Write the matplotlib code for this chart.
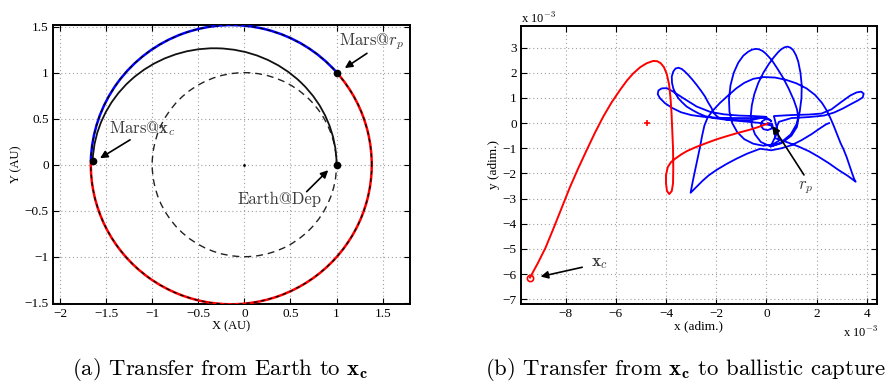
import matplotlib.pyplot as plt
from matplotlib.patches import Arc, Circle

plt.rcParams['font.family'] = ['Liberation Serif', 'DejaVu Serif']
plt.rcParams['mathtext.fontset'] = 'cm'

# ---- (a) heliocentric transfer, AU ----
mars_center = (-0.142, 0.0)
mars_w, mars_h = 3.048, 3.034
earth_r = 1.0
transfer_center = (-0.323, 0.0)
transfer_w, transfer_h = 2.646, 2.53
ang_rp = 41.2      # Mars@rp seen from Mars orbit centre (deg)
ang_xc = 178.5     # Mars@xc
ang_transfer_end = 178.3

pts_x = [1.0, -1.646, 1.0]
pts_y = [1.0, 0.04, 0.0]

# ---- (b) ballistic capture, adim. (x 1e-3) ----
red_x = [-9.42, -9.1, -8.8, -8.49, -8.15, -7.83, -7.5, -7.16, -6.83, -6.5, -6.17,
         -5.83, -5.55, -5.30, -5.03, -4.77, -4.51, -4.35, -4.21, -4.08, -3.97, -3.88,
         -3.82, -3.78, -3.75, -3.72, -3.71, -3.72, -3.77, -3.87, -3.96, -4.0, -4.0,
         -3.93, -3.8, -3.64, -3.4, -3.18, -2.8, -2.38, -2.0, -1.58, -1.1, -0.65,
         -0.3, 0.05]
red_y = [-6.14, -5.55, -4.95, -4.2, -3.35, -2.55, -1.8, -1.07, -0.38, 0.26, 0.82,
         1.32, 1.70, 1.98, 2.22, 2.38, 2.47, 2.46, 2.38, 2.22, 1.95, 1.55,
         1.0, 0.4, -0.3, -1.0, -1.8, -2.4, -2.7, -2.82, -2.7, -2.4, -2.07,
         -1.75, -1.55, -1.42, -1.25, -1.12, -0.95, -0.79, -0.65, -0.52, -0.38, -0.26,
         -0.15, -0.02]

blue_x = [0.05, 0.22, 0.25, 0.2, 0.05, -0.12, -0.22, -0.18, -0.05, 0.1, 0.2,
          # lobe to the far left
          0.0, -0.6, -1.2, -1.9, -2.5, -3.0, -3.4, -3.75, -4.04, -4.24, -4.33, -4.3,
          -4.17, -3.97, -3.71, -3.31, -2.78, -2.25, -1.7, -1.1, -0.5, 0.0,
          # upper-left lobe
          -0.6, -1.2, -1.6, -1.91, -2.1, -2.18, -2.32, -2.44, -2.6, -2.78, -2.95, -3.11,
          -3.25, -3.37, -3.5, -3.62, -3.71, -3.77, -3.76, -3.71, -3.62, -3.51, -3.35,
          -3.18, -2.95, -2.71, -2.45, -2.1, -1.5, -0.8, -0.2, 0.2, 0.4,
          # right tall loop
          0.17, 0.57, 0.97, 1.20, 1.33, 1.40, 1.41, 1.36, 1.27, 1.18, 1.07, 0.96, 0.84,
          0.72, 0.6, 0.48, 0.30, 0.10, -0.12, -0.32, -0.48, -0.58, -0.62, -0.58, -0.45,
          -0.22, 0.17, 0.6, 1.0, 1.22, 1.28,
          # left tall loop
          1.22, 1.1, 0.9, 0.68, 0.45, 0.22, -0.02, -0.14, -0.28, -0.42, -0.57, -0.72,
          -0.92, -1.12, -1.3, -1.43, -1.49, -1.47, -1.36, -1.16, -0.88, -0.52, -0.12,
          0.25, 0.5, 0.45, 0.3,
          # right lobe
          1.0, 1.7, 2.2, 2.6, 3.0, 3.35, 3.6, 3.78, 3.88, 3.84, 3.65, 3.4, 3.05, 2.7,
          2.3, 1.7, 1.0, 0.5, 0.35, 0.35,
          # lower right branch to cusp
          0.8, 1.28, 1.7, 2.07, 2.5, 2.87, 3.25, 3.56,
          # big arc
          3.50, 3.42, 3.32, 3.2, 3.08, 2.96, 2.82, 2.69, 2.57, 2.42, 2.22, 1.94, 1.6,
          1.2, 0.78, 0.35, -0.1, -0.52, -0.88, -1.2, -1.52, -1.85, -2.15, -2.35, -2.47,
          -2.56, -2.64, -2.74, -2.84, -2.93, -3.02,
          # lower left branch
          -2.8, -2.55, -2.3, -2.0, -1.58, -1.2, -0.78, -0.25, 0.2, 0.6, 1.0, 1.4, 1.8,
          2.15, 2.38, 2.5]
blue_y = [0.0, -0.02, -0.1, -0.22, -0.28, -0.24, -0.1, 0.06, 0.15, 0.15, 0.08,
          0.22, 0.2, 0.2, 0.21, 0.25, 0.32, 0.43, 0.6, 0.79, 0.99, 1.15, 1.3,
          1.38, 1.39, 1.25, 0.99, 0.66, 0.45, 0.35, 0.3, 0.28, 0.25,
          0.12, 0.12, 0.15, 0.22, 0.40, 0.59, 0.82, 1.05, 1.28, 1.52, 1.73, 1.91,
          2.05, 2.15, 2.2, 2.17, 2.05, 1.85, 1.6, 1.38, 1.18, 0.99, 0.82,
          0.66, 0.52, 0.39, 0.28, 0.2, 0.12, 0.06, 0.0, -0.1, -0.45,
          -0.93, -0.78, -0.45, -0.05, 0.45, 1.0, 1.5, 2.0, 2.45, 2.7, 2.9, 3.0, 3.04,
          3.01, 2.94, 2.83, 2.62, 2.35, 2.0, 1.6, 1.15, 0.7, 0.3, -0.1, -0.45,
          -0.75, -0.93, -0.8, -0.5, -0.15, 0.2,
          0.55, 0.9, 1.35, 1.78, 2.15, 2.5, 2.76, 2.86, 2.93, 2.95, 2.92, 2.84,
          2.68, 2.4, 2.0, 1.5, 0.95, 0.45, 0.0, -0.36, -0.64, -0.82, -0.9,
          -0.85, -0.7, -0.3, 0.28,
          0.32, 0.34, 0.38, 0.55, 0.85, 1.1, 1.22, 1.25, 1.17, 1.02, 0.9, 0.77, 0.58, 0.42,
          0.30, 0.24, 0.2, 0.05, -0.3, -0.6,
          -0.75, -0.93, -1.12, -1.33, -1.6, -1.86, -2.1, -2.33,
          -2.22, -2.0, -1.7, -1.35, -1.05, -0.80, -0.45, -0.12, 0.16, 0.48, 0.8, 1.12, 1.38,
          1.58, 1.72, 1.81, 1.83, 1.76, 1.6, 1.38, 1.1, 0.8, 0.48, 0.2, -0.1,
          -0.5, -0.93, -1.4, -1.86, -2.3, -2.77,
          -2.55, -2.3, -2.08, -1.87, -1.62, -1.42, -1.22, -1.02, -1.08, -1.0, -0.88, -0.68,
          -0.44, -0.2, -0.05, 0.0]

moon_x, moon_y = -4.75, 0.0
xc_x, xc_y = -9.42, -6.14

a_xticks = [-2, -1.5, -1, -0.5, 0, 0.5, 1, 1.5]
a_yticks = [-1.5, -1, -0.5, 0, 0.5, 1, 1.5]
b_xticks = [-8, -6, -4, -2, 0, 2, 4]
b_yticks = [-7, -6, -5, -4, -3, -2, -1, 0, 1, 2, 3]


def minus(v):
    return '\u2212%g' % abs(v) if v < 0 else '%g' % v


def matlab_axes(ax):
    ax.grid(True, color='#a0a0a0', linestyle=(0, (1, 2.5)), linewidth=0.8)
    ax.tick_params(direction='in', top=True, right=True, length=4, width=0.8,
                   labelsize=9.5, pad=3)
    for s in ax.spines.values():
        s.set_linewidth(1.4)


fig = plt.figure(figsize=(8.88, 3.85), dpi=100)
ax1 = fig.add_axes([0.0597, 0.2104, 0.402, 0.7247])
ax2 = fig.add_axes([0.5867, 0.2104, 0.4009, 0.7221])

# (a)
matlab_axes(ax1)
ax1.add_patch(Arc(mars_center, mars_w, mars_h, theta1=ang_rp, theta2=ang_xc,
                  color='#0000ff', lw=1.8, zorder=3))
ax1.add_patch(Arc(mars_center, mars_w, mars_h, theta1=ang_xc, theta2=ang_rp,
                  color='#ff0000', lw=1.8, zorder=3))
ax1.add_patch(Arc(mars_center, mars_w, mars_h, theta1=0, theta2=360,
                  color='k', lw=0.9, ls=(0, (3, 3)), zorder=4))
ax1.add_patch(Circle((0, 0), earth_r, fill=False, color='#222222', lw=1.0,
                     ls=(0, (5, 3.5)), zorder=3))
ax1.add_patch(Arc(transfer_center, transfer_w, transfer_h, theta1=0,
                  theta2=ang_transfer_end, color='#111111', lw=1.3, zorder=3))
ax1.plot(pts_x, pts_y, 'o', color='k', ms=4.5, zorder=5)
ax1.plot([0], [0], '.', color='k', ms=2, zorder=5)

arrow = dict(arrowstyle='-|>', color='k', lw=1.2, mutation_scale=11,
             shrinkA=0, shrinkB=0)
lab = dict(fontsize=12, color='#3a3a3a', family=['cmr10', 'DejaVu Serif'])
ax1.annotate('', xy=(1.09, 1.05), xytext=(1.33, 1.21), arrowprops=arrow)
ax1.text(1.03, 1.34, r'Mars@$r_p$', va='center', **lab)
ax1.annotate('', xy=(-1.566, 0.07), xytext=(-1.24, 0.27), arrowprops=arrow)
ax1.text(-1.47, 0.39, r'Mars@$\mathbf{x}_c$', va='center', **lab)
ax1.annotate('', xy=(0.91, -0.06), xytext=(0.676, -0.293), arrowprops=arrow)
ax1.text(-0.08, -0.38, 'Earth@Dep', va='center', **lab)

ax1.set_xlim(-2.076, 1.797)
ax1.set_ylim(-1.514, 1.518)
ax1.set_xticks(a_xticks)
ax1.set_yticks(a_yticks)
ax1.set_xticklabels([minus(v) for v in a_xticks])
ax1.set_yticklabels([minus(v) for v in a_yticks])
ax1.set_xlabel('X (AU)', fontsize=9, labelpad=0)
ax1.set_ylabel('Y (AU)', fontsize=9, labelpad=2)

# (b)
matlab_axes(ax2)
ax2.plot(blue_x, blue_y, color='#0000ff', lw=1.3, zorder=3)
ax2.plot(red_x, red_y, color='#ff0000', lw=1.4, zorder=4)
ax2.plot(moon_x, moon_y, '+', color='#ff0000', ms=4, mew=1.2, zorder=4)
ax2.plot(xc_x, xc_y, 'o', mfc='none', mec='#ff0000', ms=4.5, mew=1.2, zorder=5)

ax2.annotate('', xy=(-9.0, -6.10), xytext=(-7.34, -5.73), arrowprops=arrow)
ax2.text(-7.0, -5.55, r'$\mathbf{x}_c$', fontsize=12.5, color='#3a3a3a', va='center')
ax2.annotate('', xy=(0.24, -0.11), xytext=(1.50, -2.06), arrowprops=arrow)
ax2.text(1.57, -2.55, r'$r_p$', fontsize=12, color='#3a3a3a', ha='center', va='center')

ax2.set_xlim(-9.78, 4.41)
ax2.set_ylim(-7.19, 3.86)
ax2.set_xticks(b_xticks)
ax2.set_yticks(b_yticks)
ax2.set_xticklabels([minus(v) for v in b_xticks])
ax2.set_yticklabels([minus(v) for v in b_yticks])
ax2.set_xlabel('x (adim.)', fontsize=9.5, labelpad=0)
ax2.set_ylabel('y (adim.)', fontsize=9.5, labelpad=2)
fig.text(0.587, 0.953, r'x 10$^{-3}$', fontsize=9, ha='left', va='center')
fig.text(0.949, 0.136, r'x 10$^{-3}$', fontsize=9, ha='left', va='center')

cap = dict(fontsize=16.4, ha='center', va='center', family=['cmr10', 'DejaVu Serif'])
fig.text(0.248, 0.039, r'(a) Transfer from Earth to $\mathbf{x_c}$', **cap)
fig.text(0.7725, 0.039, r'(b) Transfer from $\mathbf{x_c}$ to ballistic capture', **cap)

fig.savefig('out.png', dpi=100)
